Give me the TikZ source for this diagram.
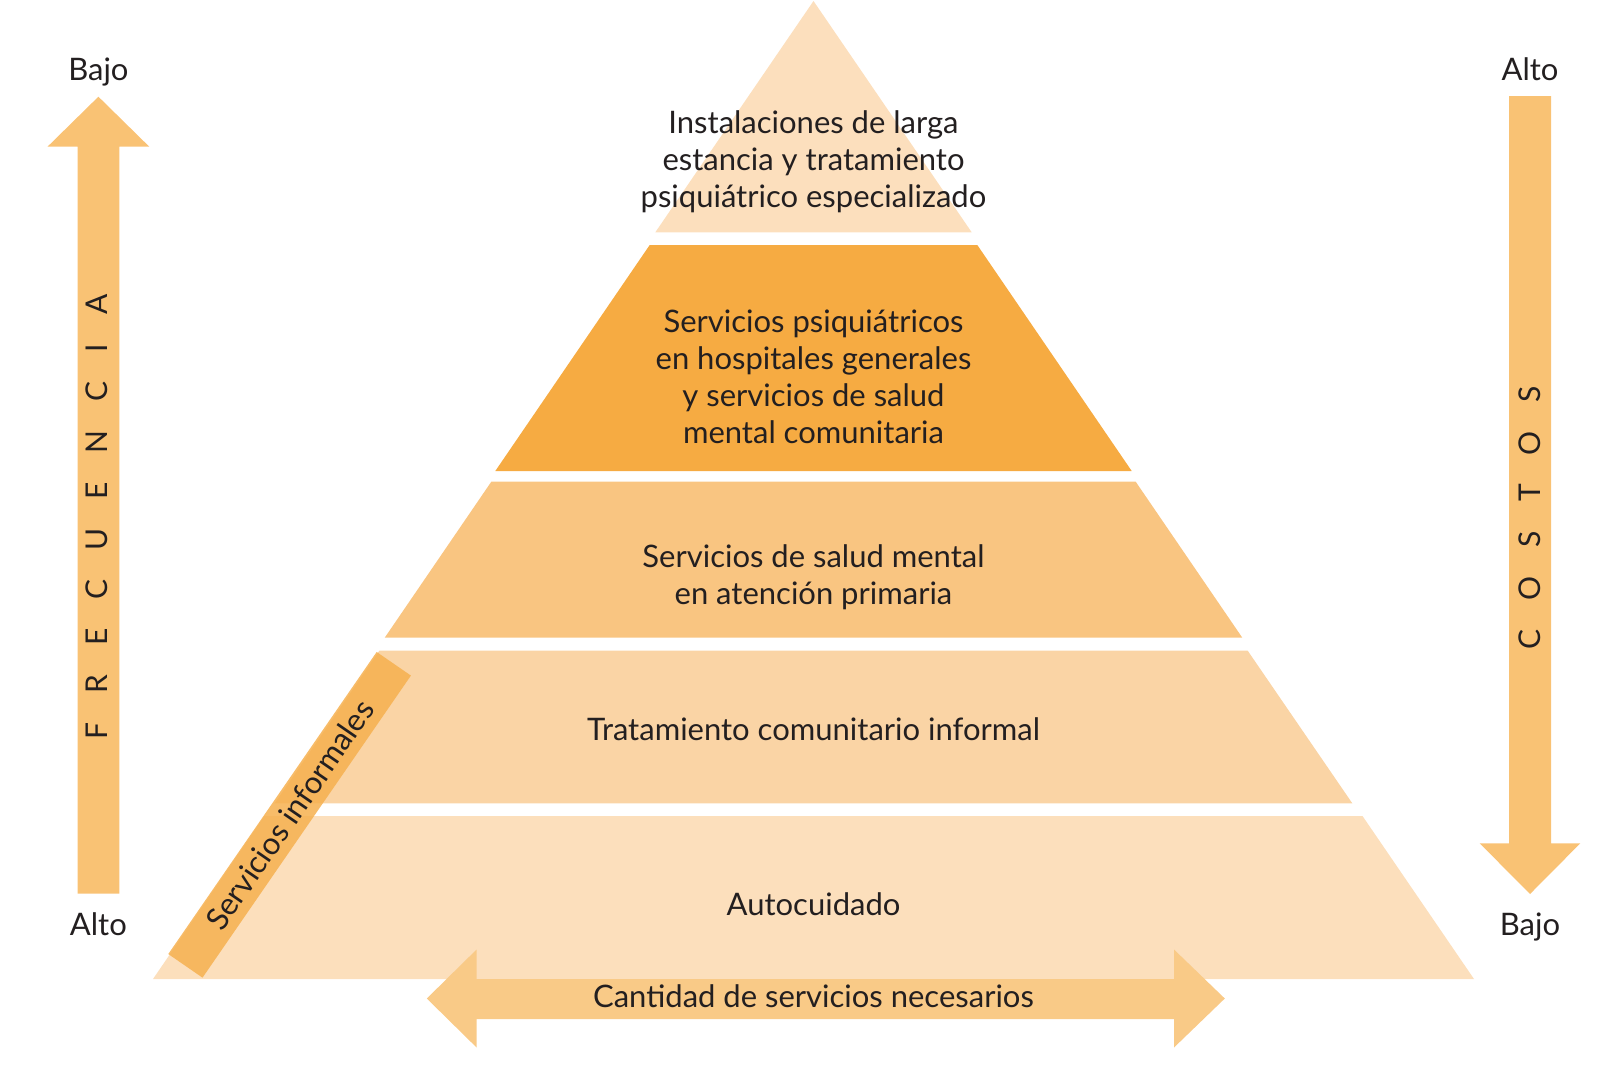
\documentclass[tikz,border=0pt]{standalone}
\usepackage{fontspec}
\setmainfont{Lato}
\definecolor{cTop}{HTML}{FCDFBD}
\definecolor{cTwo}{HTML}{F6AB42}
\definecolor{cThree}{HTML}{F9C581}
\definecolor{cFour}{HTML}{FAD4A5}
\definecolor{cFive}{HTML}{FCDFBC}
\definecolor{cSide}{HTML}{F9C274}
\definecolor{cBottom}{HTML}{F9CA87}
\definecolor{cBar}{HTML}{F6B04F}
\definecolor{ink}{HTML}{231F20}
\newcommand\lsp{\kern 29pt}
\tikzset{
  txt/.style={font=\fontsize{31}{37}\selectfont, text=ink, align=center, inner sep=0pt},
  vert/.style={font=\fontsize{30}{37}\selectfont, text=ink, inner sep=0pt, rotate=90},
}
\begin{document}
\begin{tikzpicture}[x=1pt,y=-1pt]
\useasboundingbox (0,0) rectangle (1620,1069);
\def\cx{813.5}
% pyramid bands
\fill[cTop] (\cx,1) -- (\cx+158.2,232.3) -- (\cx-158.2,232.3) -- cycle;
\fill[cTwo] (\cx-163.8,245) -- (\cx+163.8,245) -- (\cx+318.2,471) -- (\cx-318.2,471) -- cycle;
\fill[cThree] (\cx-322.2,481.7) -- (\cx+322.2,481.7) -- (\cx+428.8,637.7) -- (\cx-428.8,637.7) -- cycle;
\fill[cFour] (\cx-434.2,650.7) -- (\cx+434.2,650.7) -- (\cx+538.8,803.3) -- (\cx-538.8,803.3) -- cycle;
\fill[cFive] (\cx-549,816) -- (\cx+549,816) -- (\cx+660.5,979) -- (\cx-660.5,979) -- cycle;
% side arrows
\fill[cSide] (98.4,96.7) -- (149.3,146.7) -- (119.3,146.7) -- (119.3,893.7) -- (77.5,893.7) -- (77.5,146.7) -- (47.5,146.7) -- cycle;
\fill[cSide] (1530,894) -- (1580.3,843.3) -- (1551,843.3) -- (1551,96) -- (1509,96) -- (1509,843.3) -- (1479.7,843.3) -- cycle;
% bottom double arrow
\fill[cBottom] (426.8,998.5) -- (476.6,949.5) -- (476.6,979) -- (1174,979) -- (1174,949.5) -- (1224.8,998.5) -- (1174,1047.5) -- (1174,1019) -- (476.6,1019) -- (476.6,1047.5) -- cycle;
% texts
\node[txt] (t1) at (\cx,162) {Instalaciones de larga\\estancia y tratamiento\\psiquiátrico especializado};
\node[txt] (t2) at (\cx,377) {Servicios psiquiátricos\\en hospitales generales\\y servicios de salud\\mental comunitaria};
\node[txt] (t3) at (\cx,577) {Servicios de salud mental\\en atención primaria};
\node[txt] (t4) at (\cx,729) {Tratamiento comunitario informal};
\node[txt] (t5) at (\cx,904) {Autocuidado};
\node[txt] (tb) at (\cx,996) {Cantidad de servicios necesarios};
% informal services bar
\node[txt, rotate=55.4, minimum width=367pt, minimum height=41.6pt, fill=cBar, fill opacity=0.85, text opacity=1] (inf) at (289.6,814.8) {Servicios informales};
% side labels
\node[txt, anchor=base] (lb) at (98.4,80) {Bajo};
\node[txt, anchor=base] (la) at (98.4,935) {Alto};
\node[txt, anchor=base] (ra) at (1530,80) {Alto};
\node[txt, anchor=base] (rb) at (1530,935) {Bajo};
\node[vert] (freq) at (97,517) {F\lsp R\lsp E\lsp C\lsp U\lsp E\lsp N\lsp C\lsp I\lsp A};
\node[vert] (cost) at (1529.5,517.5) {C\lsp O\lsp S\lsp T\lsp O\lsp S};
\end{tikzpicture}
\end{document}
